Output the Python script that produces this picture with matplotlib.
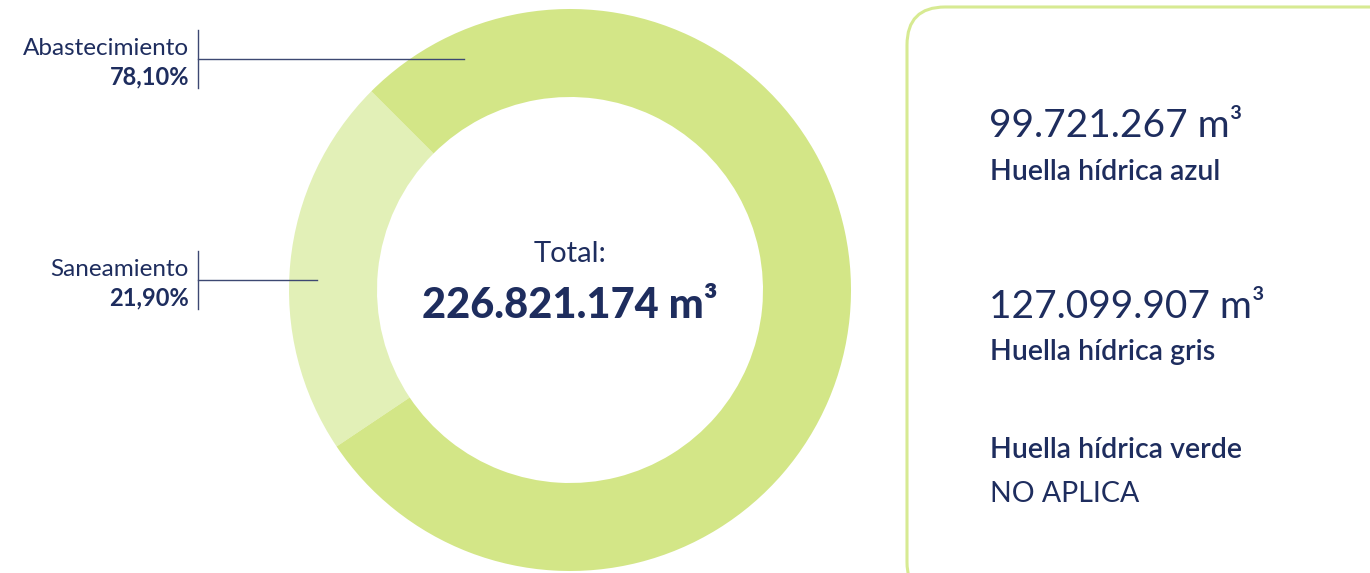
import matplotlib.pyplot as plt
from matplotlib.patches import FancyBboxPatch

plt.rcParams['font.family'] = ['Lato', 'DejaVu Sans']

# water footprint split by service
segments = ['Saneamiento', 'Abastecimiento']
shares = [21.90, 78.10]
seg_colors = ['#e2f0b7', '#d3e687']
total_value = '226.821.174'

footprint_values = ['99.721.267', '127.099.907']
footprint_names = ['Huella hídrica azul', 'Huella hídrica gris']
green_name = 'Huella hídrica verde'
green_value = 'NO APLICA'

navy = '#1e2d5e'
W, H = 1370, 573

fig = plt.figure(figsize=(W / 100, H / 100), dpi=100)
ax = fig.add_axes([0, 0, 1, 1])

def py(y):
    # image-style y (from top) to data y
    return H - y

cx, cy, R, ring = 570, py(290), 281, 88
ax.pie(shares, colors=seg_colors, startangle=135, counterclock=True,
       center=(cx, cy), radius=R,
       wedgeprops=dict(width=ring, linewidth=0))

# centre text
ax.text(cx, py(262), 'Total:', ha='center', va='baseline', fontsize=21,
        color=navy, fontweight='normal')
ax.text(cx, py(318), f'{total_value} m³', ha='center', va='baseline',
        fontsize=30, color=navy, fontweight='black')

# leader labels
label_pos = {'Abastecimiento': (55, 59, 464), 'Saneamiento': (276, 280, 317)}
for name, val in zip(segments, shares):
    base, line_y, line_end = label_pos[name]
    ax.plot([198, 198], [py(base - 25), py(base + 33)], color='#3d4872', lw=1)
    ax.plot([198, line_end], [py(line_y), py(line_y)], color='#3d4872', lw=1)
    ax.text(189, py(base), name, ha='right', va='baseline', fontsize=17.5,
            color=navy)
    pct = f'{val:.2f}%'.replace('.', ',')
    ax.text(189, py(base + 29), pct, ha='right', va='baseline', fontsize=17,
            color=navy, fontweight='bold')

# right-hand info panel
panel = FancyBboxPatch((907, py(600)), 520, 593,
                       boxstyle='round,pad=0,rounding_size=38',
                       facecolor='white', edgecolor='#d7ea92', linewidth=2.2)
ax.add_patch(panel)

for (v, n), (yv, yn) in zip(zip(footprint_values, footprint_names),
                            [(137, 180), (318, 360)]):
    ax.text(989, py(yv), f'{v} m³', ha='left', va='baseline', fontsize=28,
            color=navy, fontweight='normal')
    ax.text(990, py(yn), n, ha='left', va='baseline', fontsize=20.5,
            color=navy, fontweight='semibold')

ax.text(990, py(458), green_name, ha='left', va='baseline', fontsize=20.5,
        color=navy, fontweight='semibold')
ax.text(990, py(502), green_value, ha='left', va='baseline', fontsize=20.5,
        color=navy, fontweight='normal')

ax.set_xlim(0, W)
ax.set_ylim(0, H)
ax.set_aspect('auto')
ax.axis('off')

fig.savefig('out.png', dpi=100, facecolor='white')
